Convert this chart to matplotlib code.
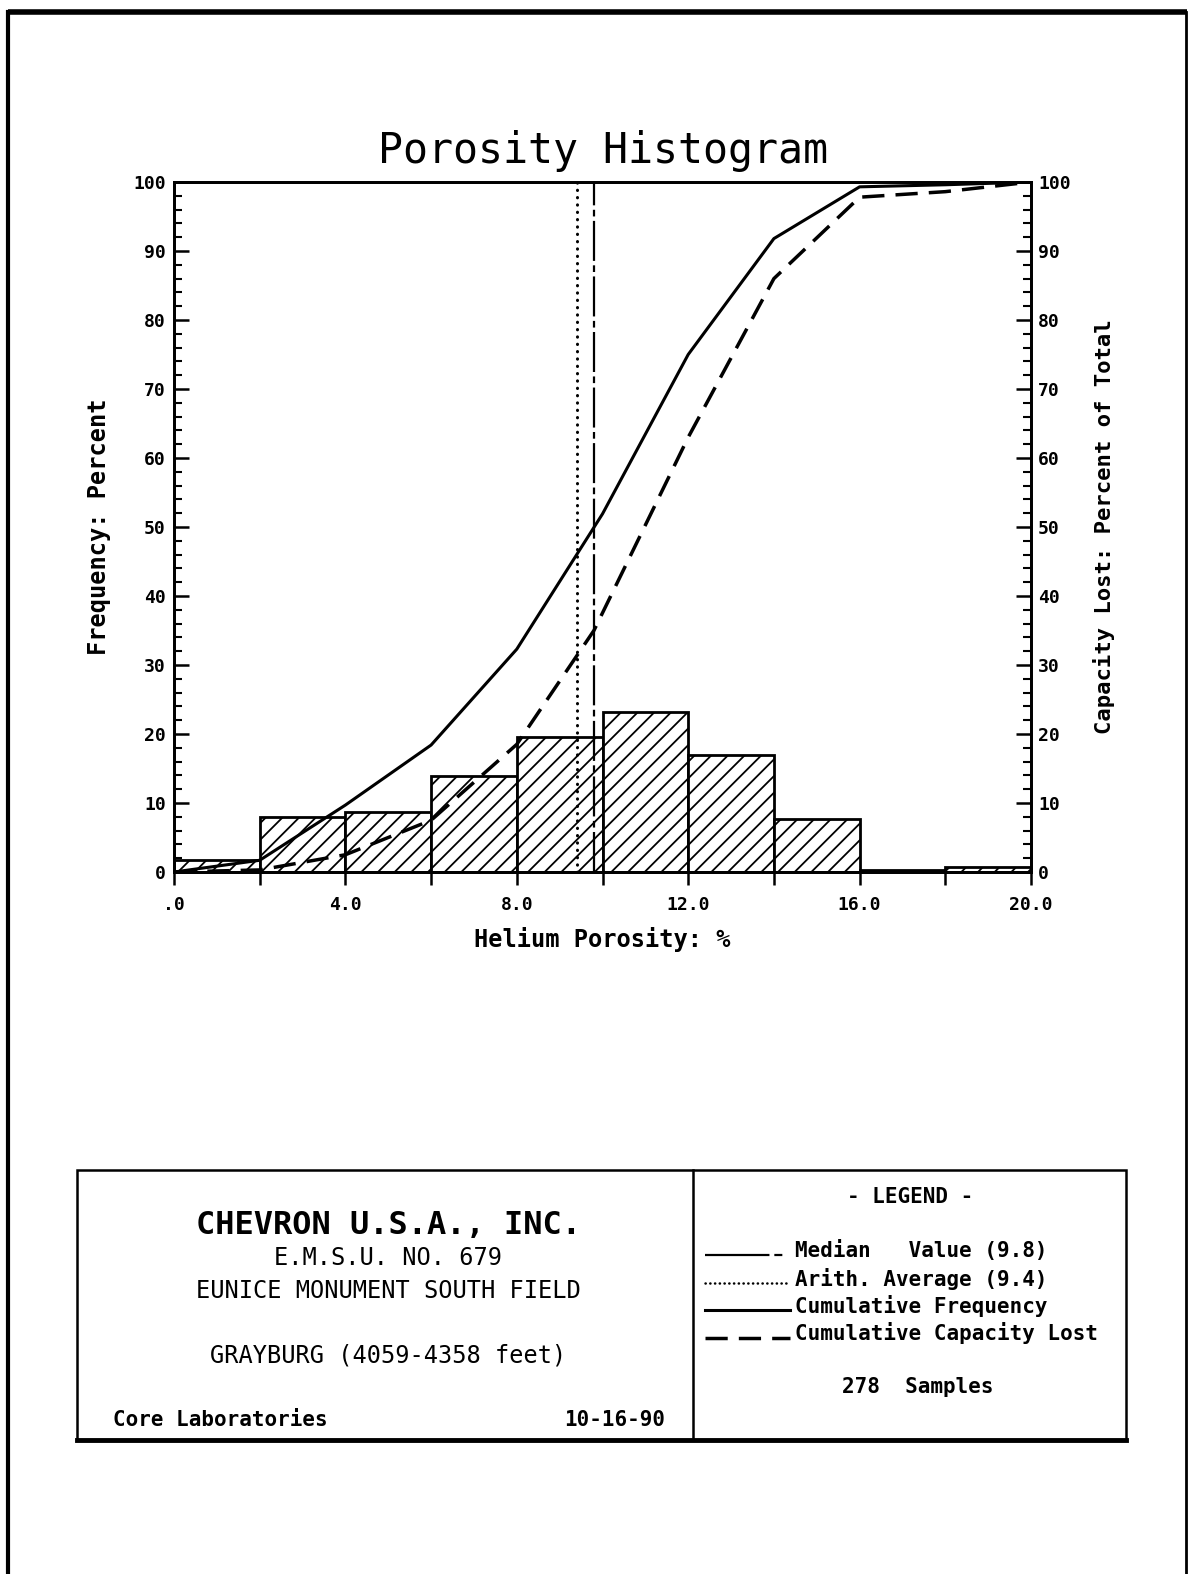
import matplotlib

matplotlib.use("Agg")
import matplotlib.pyplot as plt
from matplotlib.patches import Rectangle

W, H = 1191, 1574

# histogram data (helium porosity, %)
bin_edges = [0, 2, 4, 6, 8, 10, 12, 14, 16, 18, 20]
frequency = [1.7, 8.0, 8.7, 13.9, 19.6, 23.2, 17.0, 7.7, 0.3, 0.7]

# cumulative frequency at bin edges
cum_freq_x = [0, 2, 4, 6, 8, 10, 12, 14, 16, 18, 20]
cum_freq = [0, 1.7, 9.7, 18.4, 32.3, 51.9, 75.0, 91.8, 99.3, 99.6, 100]

# cumulative capacity lost
cap_lost_x = [0, 2, 4, 6, 8, 9.8, 12, 14, 16, 18, 20]
cap_lost = [0, 0.3, 2.5, 7.5, 18.5, 35.0, 63.0, 86.0, 97.8, 98.6, 100]

median_value = 9.8
arith_average = 9.4
n_samples = 278

x_ticks = [0, 2, 4, 6, 8, 10, 12, 14, 16, 18, 20]
x_tick_labels = [".0", "", "4.0", "", "8.0", "", "12.0", "", "16.0", "", "20.0"]
y_ticks = list(range(0, 101, 10))

MONO = "DejaVu Sans Mono"
plt.rcParams["hatch.linewidth"] = 1.3

# line styles
median_style = dict(ls=(0, (18, 2, 3, 2)), lw=1.6)
avg_style = dict(ls=(0, (0.1, 2.3)), lw=2.2, dash_capstyle="round")
freq_style = dict(ls="-", lw=2.2)
cap_style = dict(ls=(0, (6.4, 3.2)), lw=2.5)

fig = plt.figure(figsize=(W / 100, H / 100), dpi=100)
fig.patch.set_facecolor("white")

# overlay in pixel coordinates for page frame and title block
ov = fig.add_axes([0, 0, 1, 1])
ov.set_xlim(0, W)
ov.set_ylim(H, 0)
ov.axis("off")
ov.patch.set_visible(False)

ov.plot([8, 1187], [12, 12], color="black", lw=4, solid_capstyle="butt")
ov.plot([8, 8], [12, H], color="black", lw=3)
ov.plot([1186, 1186], [12, H], color="black", lw=2)

ov.add_patch(Rectangle((77, 1170), 1049, 270, fill=False, lw=1.8, ec="black"))
ov.plot([77, 1126], [1440, 1440], color="black", lw=3.5)
ov.plot([693, 693], [1170, 1440], color="black", lw=1.8)

ov.text(388, 1225, "CHEVRON U.S.A., INC.", family=MONO, weight="bold",
        fontsize=23, ha="center", va="center")
ov.text(388, 1258, "E.M.S.U. NO. 679", family=MONO, fontsize=17,
        ha="center", va="center")
ov.text(388, 1291, "EUNICE MONUMENT SOUTH FIELD", family=MONO, fontsize=17,
        ha="center", va="center")
ov.text(388, 1356, "GRAYBURG (4059-4358 feet)", family=MONO, fontsize=17,
        ha="center", va="center")
ov.text(113, 1420, "Core Laboratories", family=MONO, weight="bold",
        fontsize=15, ha="left", va="center")
ov.text(665, 1420, "10-16-90", family=MONO, weight="bold",
        fontsize=15, ha="right", va="center")

ov.text(910, 1197, "- LEGEND -", family=MONO, weight="bold",
        fontsize=15, ha="center", va="center")
legend_rows = [
    ("Median   Value (%.1f)" % median_value, dict(ls=(0, (29, 2.2, 3.6, 10)), lw=1.6)),
    ("Arith. Average (%.1f)" % arith_average, dict(ls=(0, (0.1, 1.8)), lw=1.8,
                                                   dash_capstyle="round")),
    ("Cumulative Frequency", freq_style),
    ("Cumulative Capacity Lost", cap_style),
]
for i, (label, style) in enumerate(legend_rows):
    yy = 1251 + i * 27.5
    ov.plot([705, 790], [yy + 4, yy + 4], color="black", **style)
    ov.text(795, yy, label, family=MONO, weight="bold", fontsize=15,
            ha="left", va="center")
ov.text(918, 1387, "%d  Samples" % n_samples, family=MONO, weight="bold",
        fontsize=15, ha="center", va="center")

# main chart
left, right = 174 / W, 1031 / W
bottom, top = 1 - 872 / H, 1 - 182 / H
ax = fig.add_axes([left, bottom, right - left, top - bottom])
ax.patch.set_visible(False)

ax.bar(bin_edges[:-1], frequency, width=2, align="edge", facecolor="white",
       edgecolor="black", hatch="//", linewidth=2, zorder=2)
ax.plot(cum_freq_x, cum_freq, color="black", zorder=3, **freq_style)
ax.plot(cap_lost_x, cap_lost, color="black", zorder=3, **cap_style)
ax.plot([median_value, median_value], [0, 100], color="black", zorder=3,
        **median_style)
ax.plot([arith_average, arith_average], [0, 100], color="black", zorder=3,
        **avg_style)

ax.set_xlim(0, 20)
ax.set_ylim(0, 100)
for s in ax.spines.values():
    s.set_linewidth(2)

ax.set_xticks(x_ticks)
ax.set_xticklabels(x_tick_labels, family=MONO, weight="bold", fontsize=13)
ax.tick_params(axis="x", direction="out", length=9, width=1.8, pad=8)
ax.set_yticks(y_ticks)
ax.set_yticks(range(0, 101, 2), minor=True)
ax.set_yticklabels([str(v) for v in y_ticks], family=MONO, weight="bold", fontsize=13)
ax.tick_params(axis="y", which="major", direction="in", length=11, width=1.8, pad=6)
ax.tick_params(axis="y", which="minor", direction="in", length=6, width=1.5)

ax2 = ax.twinx()
ax2.set_ylim(0, 100)
ax2.set_yticks(y_ticks)
ax2.set_yticks(range(0, 101, 2), minor=True)
ax2.set_yticklabels([str(v) for v in y_ticks], family=MONO, weight="bold", fontsize=13)
ax2.tick_params(axis="y", which="major", direction="in", length=11, width=1.8, pad=5)
ax2.tick_params(axis="y", which="minor", direction="in", length=6, width=1.5)
for s in ax2.spines.values():
    s.set_linewidth(2)

ax.set_title("Porosity Histogram", family=MONO, fontsize=30, pad=14)
ax.set_xlabel("Helium Porosity: %", family=MONO, weight="bold", fontsize=17, labelpad=10)
ax.set_ylabel("Frequency: Percent", family=MONO, weight="bold", fontsize=17, labelpad=16)
ax2.set_ylabel("Capacity Lost: Percent of Total", family=MONO, weight="bold",
               fontsize=16, labelpad=16)

fig.savefig("out.png", dpi=100, facecolor="white")
